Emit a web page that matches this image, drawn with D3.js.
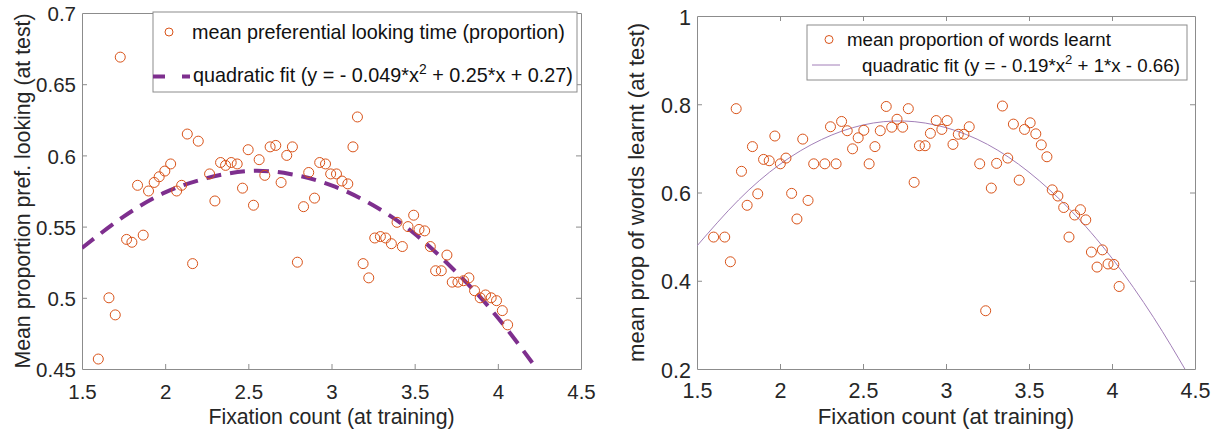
<!DOCTYPE html>
<html><head><meta charset="utf-8">
<script src="https://cdn.jsdelivr.net/npm/d3@7"></script>
<style>
html,body{margin:0;padding:0;background:#fff;}
svg{display:block;font-family:"Liberation Sans",Arial,sans-serif;}
</style></head>
<body><svg id="c" width="1217" height="434"></svg>
<script>
// ---------- data ----------
const leftX = [1.598,1.662,1.700,1.730,1.768,1.800,1.834,1.868,1.900,1.934,1.964,1.998,2.033,2.069,2.099,2.133,2.165,2.199,2.267,2.299,2.333,2.363,2.397,2.433,2.465,2.499,2.531,2.565,2.599,2.631,2.665,2.697,2.731,2.765,2.795,2.832,2.863,2.898,2.929,2.964,2.995,3.030,3.063,3.098,3.129,3.156,3.190,3.224,3.260,3.294,3.326,3.360,3.394,3.426,3.460,3.494,3.526,3.560,3.594,3.626,3.660,3.694,3.726,3.760,3.794,3.826,3.860,3.894,3.926,3.960,3.992,4.027,4.059];
const leftY = [0.457,0.500,0.488,0.669,0.541,0.539,0.579,0.544,0.575,0.581,0.585,0.589,0.594,0.575,0.579,0.615,0.524,0.610,0.587,0.568,0.595,0.593,0.595,0.594,0.577,0.604,0.565,0.597,0.586,0.606,0.607,0.581,0.600,0.606,0.525,0.564,0.588,0.570,0.595,0.594,0.587,0.587,0.582,0.580,0.606,0.627,0.524,0.514,0.542,0.543,0.542,0.538,0.553,0.536,0.550,0.558,0.548,0.547,0.536,0.519,0.519,0.530,0.511,0.511,0.512,0.514,0.505,0.500,0.502,0.500,0.498,0.491,0.481];
const leftFitX = [1.5,1.75,2,2.25,2.5,2.75,3,3.25,3.5,3.75,4,4.25,4.3];
const leftFitY = [0.535,0.557,0.574,0.584,0.589,0.587,0.579,0.565,0.545,0.518,0.486,0.4475,0.439];

const rightX = [1.600,1.667,1.701,1.736,1.768,1.802,1.834,1.866,1.901,1.935,1.969,2.002,2.036,2.070,2.102,2.137,2.169,2.203,2.270,2.304,2.338,2.371,2.405,2.437,2.471,2.505,2.537,2.572,2.604,2.640,2.673,2.705,2.739,2.773,2.808,2.840,2.874,2.906,2.941,2.975,3.007,3.042,3.074,3.108,3.140,3.203,3.239,3.273,3.305,3.340,3.372,3.406,3.441,3.473,3.507,3.541,3.574,3.608,3.640,3.674,3.709,3.741,3.775,3.810,3.842,3.876,3.910,3.942,3.976,4.011,4.043];
const rightY = [0.499,0.499,0.443,0.790,0.648,0.571,0.704,0.597,0.675,0.672,0.728,0.665,0.678,0.598,0.540,0.721,0.582,0.665,0.665,0.749,0.665,0.761,0.740,0.699,0.724,0.741,0.665,0.704,0.740,0.795,0.748,0.766,0.748,0.790,0.623,0.706,0.706,0.734,0.763,0.743,0.763,0.709,0.732,0.732,0.749,0.665,0.332,0.610,0.666,0.796,0.678,0.755,0.628,0.743,0.758,0.733,0.708,0.681,0.606,0.592,0.566,0.499,0.549,0.561,0.538,0.465,0.431,0.470,0.438,0.437,0.387];
const rightFitX = [1.5,1.75,2,2.25,2.5,2.75,3,3.25,3.5,3.75,4,4.25,4.45];
const rightFitY = [0.479,0.583,0.664,0.720,0.753,0.762,0.747,0.709,0.646,0.560,0.451,0.317,0.193];

const xTicks = [1.5,2,2.5,3,3.5,4,4.5];
const leftYTicks = [0.45,0.5,0.55,0.6,0.65,0.7];
const rightYTicks = [0.2,0.4,0.6,0.8,1];

const xLabel = "Fixation count (at training)";
const leftYLabel = "Mean proportion pref. looking (at test)";
const rightYLabel = "mean prop of words learnt (at test)";
const leftLegend = ["mean preferential looking time (proportion)", "quadratic fit (y = - 0.049*x", "2", " + 0.25*x + 0.27)"];
const rightLegend = ["mean proportion of words learnt", "quadratic fit (y = - 0.19*x", "2", " + 1*x - 0.66)"];

// ---------- drawing ----------
const svg = d3.select("#c");
const markerColor = "#D95319";
const axisColor = "#8c8c8c";
const textColor = "#262626";

function panel(cfg) {
  const x = d3.scaleLinear().domain([1.5, 4.5]).range([cfg.x0, cfg.x1]);
  const y = d3.scaleLinear().domain(cfg.yDomain).range([cfg.y1, cfg.y0]);
  const g = svg.append("g");
  const clipId = "clip" + cfg.id;
  svg.append("clipPath").attr("id", clipId).append("rect")
    .attr("x", cfg.x0).attr("y", cfg.y0).attr("width", cfg.x1 - cfg.x0).attr("height", cfg.y1 - cfg.y0);

  const fmt = d3.format("");
  const ax = [
    g.append("g").attr("transform", `translate(0,${cfg.y1})`).call(d3.axisBottom(x).tickValues(xTicks).tickFormat(d => fmt(d)).tickSizeInner(-5).tickSizeOuter(0).tickPadding(cfg.xPad)),
    g.append("g").attr("transform", `translate(0,${cfg.y0})`).call(d3.axisTop(x).tickValues(xTicks).tickFormat("").tickSizeInner(-5).tickSizeOuter(0)),
    g.append("g").attr("transform", `translate(${cfg.x0},0)`).call(d3.axisLeft(y).tickValues(cfg.yTicks).tickFormat(d => fmt(d)).tickSizeInner(-5).tickSizeOuter(0).tickPadding(6)),
    g.append("g").attr("transform", `translate(${cfg.x1},0)`).call(d3.axisRight(y).tickValues(cfg.yTicks).tickFormat("").tickSizeInner(-5).tickSizeOuter(0))
  ];
  ax.forEach(a => {
    a.select(".domain").attr("stroke", axisColor);
    a.selectAll(".tick line").attr("stroke", axisColor);
    a.selectAll(".tick text").attr("fill", textColor).attr("font-size", cfg.tickFs)
      .attr("font-family", '"Liberation Sans",Arial,sans-serif');
  });
  ax[2].selectAll(".tick text").attr("dy", "0.38em");
  ax.forEach(a => a.selectAll(".tick line").filter(d => d === 1.5 || d === 4.5 || d === cfg.yDomain[0] || d === cfg.yDomain[1]).remove());

  g.append("text").attr("x", (cfg.x0 + cfg.x1) / 2).attr("y", 423.5).attr("text-anchor", "middle")
    .attr("font-size", cfg.labelFs).attr("fill", textColor).text(xLabel);
  g.append("text").attr("transform", `translate(${cfg.yLabelX},${(cfg.y0 + cfg.y1) / 2}) rotate(-90)`)
    .attr("text-anchor", "middle").attr("font-size", cfg.labelFs).attr("fill", textColor).text(cfg.yLabel);

  const line = d3.line().x(d => x(d[0])).y(d => y(d[1])).curve(d3.curveNatural);
  const fitPts = cfg.fitX.map((v, i) => [v, cfg.fitY[i]]);
  g.append("path").attr("clip-path", `url(#${clipId})`).attr("d", line(fitPts))
    .attr("fill", "none").attr("stroke", cfg.fitColor).attr("stroke-width", cfg.fitWidth)
    .attr("stroke-dasharray", cfg.fitDash || null);

  g.append("g").selectAll("circle").data(cfg.px.map((v, i) => [v, cfg.py[i]])).join("circle")
    .attr("cx", d => x(d[0])).attr("cy", d => y(d[1])).attr("r", 5)
    .attr("fill", "none").attr("stroke", markerColor).attr("stroke-width", 1);

  const L = cfg.legend;
  const lg = g.append("g");
  lg.append("rect").attr("x", L.x0).attr("y", L.y0).attr("width", L.x1 - L.x0).attr("height", L.y1 - L.y0)
    .attr("fill", "#fff").attr("stroke", axisColor).attr("stroke-width", 1);
  lg.append("circle").attr("cx", L.markerX).attr("cy", L.row1Y).attr("r", 4)
    .attr("fill", "none").attr("stroke", markerColor).attr("stroke-width", 1);
  lg.append("text").attr("x", L.text1X).attr("y", L.row1Base).attr("font-size", L.fs).attr("fill", "#111").text(cfg.legendText[0]);
  lg.append("line").attr("x1", L.lineX0).attr("x2", L.lineX1).attr("y1", L.row2Y).attr("y2", L.row2Y)
    .attr("stroke", cfg.fitColor).attr("stroke-width", cfg.fitWidth).attr("stroke-dasharray", L.dash || null);
  const t2 = lg.append("text").attr("x", L.text2X).attr("y", L.row2Base).attr("font-size", L.fs).attr("fill", "#111");
  t2.append("tspan").text(cfg.legendText[1]);
  t2.append("tspan").attr("font-size", L.fs * 0.7).attr("dy", -L.fs * 0.42).text(cfg.legendText[2]);
  t2.append("tspan").attr("dy", L.fs * 0.42).text(cfg.legendText[3]);
}

panel({
  id: "L", x0: 82, x1: 581, y0: 13, y1: 369, yDomain: [0.45, 0.7], yTicks: leftYTicks,
  yLabel: leftYLabel, yLabelX: 30, tickFs: 20.5, labelFs: 21.3, xPad: 15,
  px: leftX, py: leftY, fitX: leftFitX, fitY: leftFitY,
  fitColor: "#7E2F8E", fitWidth: 4, fitDash: "15,9",
  legendText: leftLegend,
  legend: { x0: 153, x1: 577, y0: 12, y1: 92, markerX: 169, row1Y: 32, row2Y: 76.5, text1X: 192, text2X: 193,
            row1Base: 38.5, row2Base: 82, fs: 19.8, lineX0: 153, lineX1: 190, dash: "12,17" }
});

panel({
  id: "R", x0: 697, x1: 1195, y0: 16, y1: 369, yDomain: [0.2, 1], yTicks: rightYTicks,
  yLabel: rightYLabel, yLabelX: 643.5, tickFs: 21.5, labelFs: 22.2, xPad: 13.7,
  px: rightX, py: rightY, fitX: rightFitX, fitY: rightFitY,
  fitColor: "#a27fb8", fitWidth: 1,
  legendText: rightLegend,
  legend: { x0: 807, x1: 1187, y0: 25, y1: 80, markerX: 829, row1Y: 39.5, row2Y: 65, text1X: 847, text2X: 862,
            row1Base: 46, row2Base: 71.5, fs: 18.7, lineX0: 812, lineX1: 840 }
});
</script>
</body></html>
